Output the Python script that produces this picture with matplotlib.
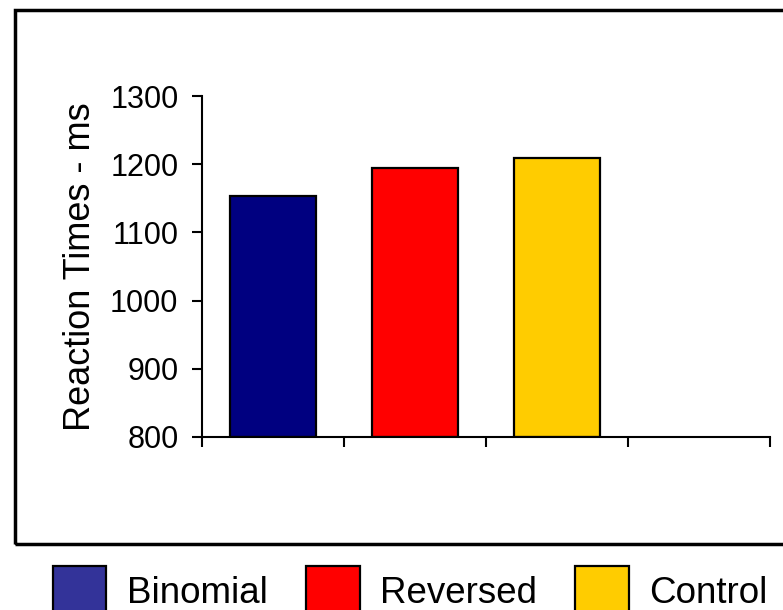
import matplotlib
matplotlib.use("Agg")
import matplotlib.pyplot as plt
from matplotlib.patches import Rectangle, Patch

plt.rcParams['font.family'] = ['Liberation Sans', 'DejaVu Sans']

# Data
categories = ["Binomial", "Reversed", "Control", ""]
values = [1153, 1195, 1209]
bar_colors = ["#000080", "#FF0000", "#FFCC00"]
legend_colors = ["#333399", "#FF0000", "#FFCC00"]
yticks = [800, 900, 1000, 1100, 1200, 1300]

W, H = 783, 610
fig = plt.figure(figsize=(W / 100, H / 100), dpi=100)

# outer frame
frame = Rectangle((15 / W, 1 - 544 / H), 1.2, (544 - 10) / H,
                  transform=fig.transFigure, fill=False, lw=2.5,
                  edgecolor="black", clip_on=False)
fig.add_artist(frame)

ax = fig.add_axes([202 / W, 1 - 437 / H, (770 - 202) / W, (437 - 96) / H])
ax.set_facecolor("none")

xpos = list(range(len(values)))
ax.bar(xpos, [v - 800 for v in values], bottom=800, width=0.6,
       color=bar_colors, edgecolor="black", linewidth=1.6, zorder=2)

ax.set_xlim(-0.5, len(categories) - 0.5)
ax.set_ylim(800, 1300)
ax.set_yticks(yticks)
ax.set_yticklabels([str(t) for t in yticks])
ax.set_xticks([i - 0.5 for i in range(len(categories) + 1)])
ax.set_xticklabels([])

for s in ["top", "right"]:
    ax.spines[s].set_visible(False)
for s in ["left", "bottom"]:
    ax.spines[s].set_linewidth(1.5)

ax.tick_params(axis="y", direction="out", length=7, width=1.5,
               labelsize=22, pad=10)
ax.tick_params(axis="x", direction="out", length=7.5, width=1.5)

ax.set_ylabel("Reaction Times - ms", fontsize=26, labelpad=9)

handles = [Patch(facecolor=c, edgecolor="black", linewidth=1.6)
           for c in legend_colors]
fig.legend(handles, categories[:3], loc="upper left",
           bbox_to_anchor=(53 / W, 1 - 566 / H), ncol=3, frameon=False,
           fontsize=26.5, handlelength=1.45, handleheight=1.75,
           handletextpad=0.55, columnspacing=1.05, borderpad=0,
           borderaxespad=0)

fig.savefig("out.png", dpi=100)
